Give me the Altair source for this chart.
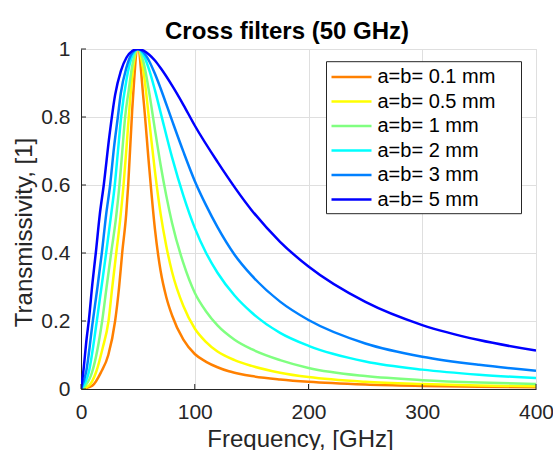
import altair as alt
import pandas as pd

# ---- data ----
labels = ["a=b= 0.1 mm", "a=b= 0.5 mm", "a=b= 1 mm", "a=b= 2 mm", "a=b= 3 mm", "a=b= 5 mm"]
colors = ["#FF8000", "#FFFF00", "#80FF80", "#00FFFF", "#0080FF", "#0000FF"]
title_text = ["Cross filters (50 GHz)"]

f_01 = [0, 10, 17.7, 24, 30, 33.5, 36.2, 39.7, 41.5, 45, 50, 55, 60, 65, 70, 75, 80, 90, 100, 110, 120, 130, 140, 150, 175, 200, 250, 300, 350, 400]
t_01 = [0, 0.01, 0.05, 0.1, 0.2, 0.3, 0.4, 0.513, 0.6, 0.82, 1.0, 0.85, 0.65, 0.47, 0.347, 0.27, 0.217, 0.145, 0.103, 0.08, 0.064, 0.052, 0.044, 0.038, 0.028, 0.021, 0.013, 0.009, 0.0065, 0.005]

f_05 = [0, 7, 13.3, 19, 24.2, 27.5, 31, 34.5, 37.4, 40, 42, 45, 50, 55, 60, 65, 70, 75, 80, 90, 100, 110, 120, 135, 150, 175, 200, 250, 300, 350, 400]
t_05 = [0, 0.01, 0.05, 0.12, 0.2, 0.3, 0.4, 0.5, 0.6, 0.71, 0.8, 0.918, 1.0, 0.932, 0.788, 0.64, 0.515, 0.42, 0.345, 0.244, 0.178, 0.138, 0.11, 0.085, 0.068, 0.048, 0.035, 0.021, 0.0145, 0.0105, 0.008]

f_1 = [0, 4, 9.8, 18.6, 22.5, 26.5, 31, 33.8, 36.3, 38.8, 42, 45, 50, 55, 60, 65, 70, 75, 80, 90, 100, 110, 120, 135, 150, 175, 200, 250, 300, 350, 400]
t_1 = [0, 0.01, 0.05, 0.2, 0.3, 0.4, 0.51, 0.6, 0.7, 0.8, 0.88, 0.95, 1.0, 0.961, 0.871, 0.763, 0.659, 0.568, 0.489, 0.37, 0.283, 0.228, 0.187, 0.145, 0.117, 0.085, 0.062, 0.038, 0.026, 0.019, 0.015]

f_2 = [0, 6.9, 13.9, 18, 22.1, 26.5, 29.7, 32.5, 35.3, 40, 45, 50, 55, 60, 65, 70, 80, 90, 100, 110, 120, 135, 150, 175, 200, 250, 300, 350, 400]
t_2 = [0, 0.05, 0.2, 0.3, 0.4, 0.513, 0.6, 0.7, 0.8, 0.91, 0.979, 1.0, 0.982, 0.938, 0.879, 0.813, 0.682, 0.569, 0.474, 0.4, 0.342, 0.275, 0.225, 0.165, 0.127, 0.081, 0.057, 0.042, 0.032]

f_3 = [0, 4.5, 10.4, 14.5, 18.3, 22.1, 25.6, 29, 32.4, 35, 40, 45, 50, 55, 60, 65, 70, 80, 90, 100, 110, 120, 135, 150, 175, 200, 250, 300, 350, 400]
t_3 = [0, 0.05, 0.2, 0.3, 0.4, 0.513, 0.6, 0.71, 0.8, 0.87, 0.946, 0.988, 1.0, 0.99, 0.964, 0.927, 0.884, 0.79, 0.698, 0.612, 0.54, 0.476, 0.395, 0.334, 0.257, 0.203, 0.134, 0.095, 0.071, 0.054]

f_5 = [0, 2, 5, 7, 10, 13, 16.5, 20, 25, 30, 35, 40, 45, 50, 55, 60, 65, 70, 80, 90, 100, 120, 150, 175, 200, 250, 300, 350, 400]
t_5 = [0, 0.05, 0.15, 0.205, 0.31, 0.40, 0.513, 0.60, 0.745, 0.865, 0.935, 0.975, 0.994, 1.0, 0.995, 0.983, 0.966, 0.944, 0.893, 0.836, 0.775, 0.668, 0.526, 0.433, 0.36, 0.256, 0.188, 0.144, 0.113]

x_ticks = [0, 100, 200, 300, 400]
y_ticks = [0, 0.2, 0.4, 0.6, 0.8, 1]

series = [(labels[0], f_01, t_01), (labels[1], f_05, t_05), (labels[2], f_1, t_1),
          (labels[3], f_2, t_2), (labels[4], f_3, t_3), (labels[5], f_5, t_5)]
rows = []
for i, (lab, fs, ts) in enumerate(series):
    for f, t in zip(fs, ts):
        rows.append({"series": lab, "order": i, "freq": f, "T": t})
df = pd.DataFrame(rows)

FONT = "Liberation Sans"
W, H = 455, 340

xscale = alt.Scale(domain=[0, 400], nice=False)
yscale = alt.Scale(domain=[0, 1], nice=False)

lines = alt.Chart(df).mark_line(strokeWidth=2.5, interpolate="monotone", clip=True).encode(
    x=alt.X("freq:Q", scale=xscale,
            axis=alt.Axis(values=x_ticks, title="Frequency, [GHz]", grid=True, ticks=False, tickSize=0,
                          labelFlush=False, labelOverlap=False,
                          labelFontSize=21, labelFont=FONT, labelColor="#262626",
                          labelPadding=29, labelBaseline="alphabetic",
                          titleFontSize=24, titleFont=FONT, titleFontWeight="normal", titleColor="#262626",
                          titleBaseline="alphabetic", titleY=57, titleX=219,
                          domainColor="#262626", domainWidth=1, gridColor="#dfdfdf", gridWidth=1)),
    y=alt.Y("T:Q", scale=yscale,
            axis=alt.Axis(values=y_ticks, format="~g", title="Transmissivity, [1]", grid=True, ticks=False, tickSize=0,
                          labelFlush=False, labelOverlap=False,
                          labelFontSize=21, labelFont=FONT, labelColor="#262626", labelPadding=11,
                          titleFontSize=24, titleFont=FONT, titleFontWeight="normal", titleColor="#262626",
                          titleX=-50, titleY=183, titleBaseline="alphabetic", titleAngle=-90,
                          domainColor="#262626", domainWidth=1, gridColor="#dfdfdf", gridWidth=1)),
    color=alt.Color("series:N", sort=labels,
                    scale=alt.Scale(domain=labels, range=colors),
                    legend=alt.Legend(title=None, orient="none", legendX=240.5, legendY=18,
                                      symbolType="M0,0H8", symbolSize=100, symbolStrokeWidth=2.5,
                                      labelFontSize=20, labelFont=FONT, labelColor="black",
                                      padding=0, rowPadding=4.5, labelOffset=36,
                                      labelBaseline="middle")),
    order=alt.Order("order:Q"),
    detail="series:N",
)

# legend frame (drawn above the curves, below the legend entries)
frame = alt.Chart(pd.DataFrame({"k": [0]})).mark_rect(fill="white", stroke="#262626", strokeWidth=1).encode(
    x=alt.value(245.5), x2=alt.value(440.5), y=alt.value(12.7), y2=alt.value(164.7))

ytick_df = pd.DataFrame({"v": y_ticks})
xtick_df = pd.DataFrame({"v": x_ticks})
yt = alt.Chart(ytick_df).mark_rule(color="#262626", strokeWidth=1).encode(
    y=alt.Y("v:Q", scale=yscale), x=alt.value(0), x2=alt.value(5))
xt = alt.Chart(xtick_df).mark_rule(color="#262626", strokeWidth=1).encode(
    x=alt.X("v:Q", scale=xscale), y=alt.value(H), y2=alt.value(H - 5))

title = alt.Chart(pd.DataFrame({"t": title_text})).mark_text(
    font=FONT, fontSize=24, fontWeight="bold", color="black", align="center", baseline="alphabetic"
).encode(text="t:N", x=alt.value(206), y=alt.value(-10))

chart = alt.layer(lines, frame, yt, xt, title).properties(
    width=W, height=H,
    autosize=alt.AutoSizeParams(type="none"),
    padding={"left": 81, "top": 49, "right": 17, "bottom": 61},
).configure_view(stroke=None).configure(background="white")

chart.save("out.html", embed_options={"renderer": "svg", "actions": False})
